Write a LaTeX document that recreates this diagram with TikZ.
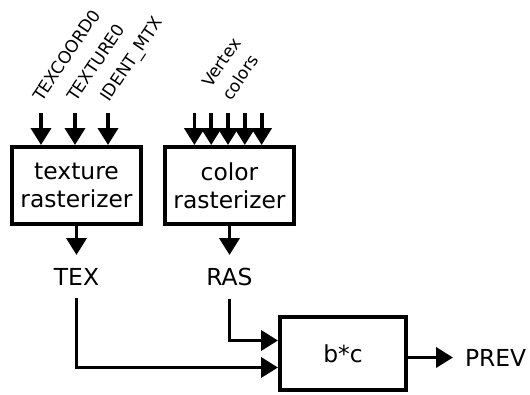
\documentclass[tikz,border=0pt]{standalone}
\usepackage{fontspec}
\setmainfont{DejaVu Sans}
\usepackage{tikz}
\usetikzlibrary{arrows.meta,positioning}

\begin{document}
\begin{tikzpicture}[
  x=1pt, y=1pt,
  unit/.style={draw, line width=4pt, align=center, minimum width=129pt,
    minimum height=77pt, inner sep=0pt, font=\fontsize{23.4}{28}\selectfont},
  signal/.style={inner xsep=12pt, inner ysep=13pt, outer sep=0pt,
    font=\fontsize{23.4}{28}\selectfont},
  inlabel/.style={rotate=56, anchor=base west, inner sep=0pt, align=left,
    font=\fontsize{17}{24}\selectfont},
  flow/.style={-{Triangle[length=17pt,width=20pt]}, line width=3.8pt}
]
\useasboundingbox (0,0) rectangle (530,-394);

% Rasterizer stages and the modulate stage.
\node[unit] (texr) at (76.5,-185.5) {texture\\rasterizer};
\node[unit] (colr) at (229.5,-185.5) {color\\rasterizer};
\node[unit, minimum width=126pt, minimum height=73pt] (bc) at (343,-353.5) {b*c};

\node[signal, below=29pt of texr] (tex) {TEX};
\node[signal, below=29pt of colr] (ras) {RAS};
\node[signal, right=45pt of bc, yshift=-4pt] (prev) {PREV};

% Inputs on top.
\foreach \x/\name [count=\i] in {41/TEXCOORD0, 75/TEXTURE0, 108/IDENT\_MTX} {
  \coordinate (tin\i) at (\x,-113);
  \node[inlabel] (tlab\i) at (\x+1,-103) {\name};
  \draw[flow] (tin\i) -- (tin\i |- texr.north);
}
\foreach \i in {1,...,5} {
  \coordinate (cin\i) at (228+16.8*\i-50.4,-113);
  \draw[flow] (cin\i) -- (cin\i |- colr.north);
}
\node[inlabel] (vlab) at (231,-102) {Vertex\\colors};

\draw[flow] (texr) -- (tex);
\draw[flow] (colr) -- (ras);
\draw[flow] (tex) |- ([yshift=-14pt]bc.west);
\draw[flow] (ras) |- ([yshift=13pt]bc.west);
\draw[flow] (bc.east |- prev) -- (prev);

\end{tikzpicture}
\end{document}
